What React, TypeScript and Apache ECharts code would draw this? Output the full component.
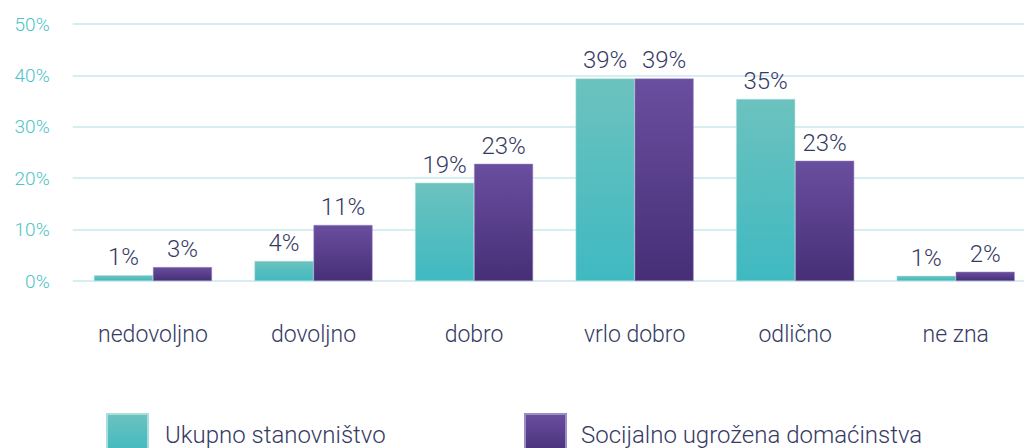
import React, { useEffect, useRef } from "react";
import * as echarts from "echarts";

const categories = ["nedovoljno", "dovoljno", "dobro", "vrlo dobro", "odlično", "ne zna"];
const seriesNames = ["Ukupno stanovništvo", "Socijalno ugrožena domaćinstva"];
const ukupno = [1.1, 3.9, 19.1, 39.4, 35.4, 1.0];
const ugrozena = [2.7, 10.9, 22.8, 39.4, 23.4, 1.8];
const yTicks = [0, 10, 20, 30, 40, 50];

const FONT = "Roboto";
const DARK = "#353a63";
const TEAL_TXT = "#4cc4c9";

const tealGrad = () =>
  new echarts.graphic.LinearGradient(0, 0, 0, 1, [
    { offset: 0, color: "#6cc2be" },
    { offset: 1, color: "#3fb9c1" },
  ]);
const purpleGrad = () =>
  new echarts.graphic.LinearGradient(0, 0, 0, 1, [
    { offset: 0, color: "#6a4e9f" },
    { offset: 1, color: "#462f77" },
  ]);

export default function App() {
  const ref = useRef<HTMLDivElement>(null);
  useEffect(() => {
    if (!ref.current) return;
    document.documentElement.style.overflow = "hidden";
    document.body.style.overflow = "hidden";
    const chart = echarts.init(ref.current, null, { renderer: "svg" });
    const label = {
      show: true,
      position: "top",
      distance: 6,
      color: DARK,
      fontFamily: FONT,
      fontWeight: 300,
      fontSize: 24,
      formatter: (p: any) => Math.round(p.value) + "%",
    };
    chart.setOption({
      animation: false,
      textStyle: { fontFamily: FONT },
      grid: { left: 72.7, right: 0, top: 24, bottom: 167, containLabel: false },
      legend: [
        {
          data: [seriesNames[0]],
          left: 101,
          top: 408,
          itemWidth: 41,
          itemHeight: 41,
          itemGap: 0,
          icon: "rect",
          textStyle: { color: DARK, fontSize: 24, fontWeight: 300, fontFamily: FONT, padding: [0, 0, 0, 12] },
        },
        {
          data: [seriesNames[1]],
          left: 519,
          top: 408,
          itemWidth: 41,
          itemHeight: 41,
          itemGap: 0,
          icon: "rect",
          textStyle: { color: DARK, fontSize: 24, fontWeight: 300, fontFamily: FONT, padding: [0, 0, 0, 10] },
        },
      ],
      xAxis: {
        type: "category",
        data: categories,
        axisLine: { show: false },
        axisTick: { show: false },
        axisLabel: {
          color: DARK,
          fontSize: 23,
          fontWeight: 300,
          fontFamily: FONT,
          margin: 42,
        },
      },
      yAxis: {
        type: "value",
        min: yTicks[0],
        max: yTicks[yTicks.length - 1],
        interval: 10,
        axisLine: { show: false },
        axisTick: { show: false },
        splitLine: { lineStyle: { color: "#d6eef1", width: 2 } },
        axisLabel: {
          color: TEAL_TXT,
          fontSize: 19,
          fontWeight: 300,
          fontFamily: FONT,
          margin: 23,
          formatter: (v: number) => v + "%",
        },
      },
      series: [
        {
          name: seriesNames[0],
          type: "bar",
          data: ukupno,
          barWidth: 59,
          barGap: "0%",
          itemStyle: { color: tealGrad(), borderColor: "#a9dedd", borderWidth: 0.5 },
          label,
        },
        {
          name: seriesNames[1],
          type: "bar",
          data: ugrozena,
          barWidth: 59,
          barGap: "0%",
          itemStyle: { color: purpleGrad(), borderColor: "#9b8cc4", borderWidth: 0.5 },
          label,
        },
      ],
    });
    return () => chart.dispose();
  }, []);
  return <div ref={ref} style={{ width: 1036.3, height: 448, position: "absolute", left: 0, top: 0 }} />;
}
